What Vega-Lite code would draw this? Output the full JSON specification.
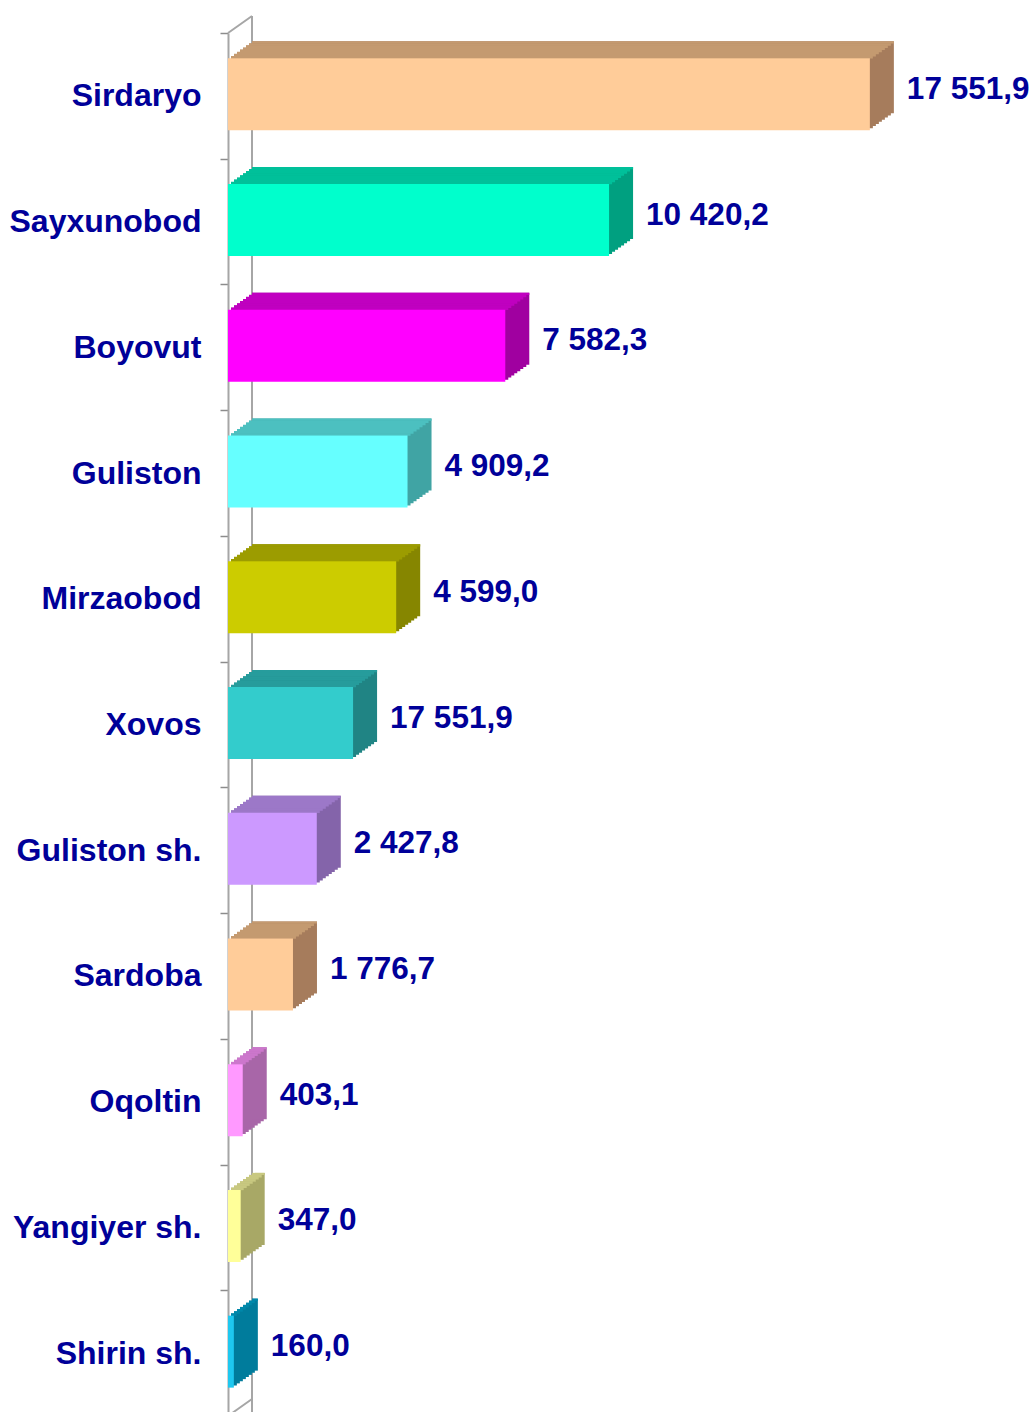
{
  "$schema": "https://vega.github.io/schema/vega-lite/v6.json",
  "autosize": "none",
  "padding": {"left": 228, "top": 33, "right": 0, "bottom": 0},
  "width": 803,
  "height": 1383,
  "background": "white",
  "config": {"view": {"stroke": null}},
  "data": {"values": [
    {"name": "Sirdaryo", "value": 17551.9, "label": "17 551,9"},
    {"name": "Sayxunobod", "value": 10420.2, "label": "10 420,2"},
    {"name": "Boyovut", "value": 7582.3, "label": "7 582,3"},
    {"name": "Guliston", "value": 4909.2, "label": "4 909,2"},
    {"name": "Mirzaobod", "value": 4599.0, "label": "4 599,0"},
    {"name": "Xovos", "value": 3420, "label": "17 551,9"},
    {"name": "Guliston sh.", "value": 2427.8, "label": "2 427,8"},
    {"name": "Sardoba", "value": 1776.7, "label": "1 776,7"},
    {"name": "Oqoltin", "value": 403.1, "label": "403,1"},
    {"name": "Yangiyer sh.", "value": 347.0, "label": "347,0"},
    {"name": "Shirin sh.", "value": 160.0, "label": "160,0"}
  ]},
  "encoding": {
    "y": {"field": "name", "type": "nominal", "sort": null,
          "scale": {"domain": ["Sirdaryo","Sayxunobod","Boyovut","Guliston","Mirzaobod","Xovos","Guliston sh.","Sardoba","Oqoltin","Yangiyer sh.","Shirin sh."], "paddingInner": 0, "paddingOuter": 0},
          "axis": {"title": null, "domain": true, "domainColor": "#A6A6A6", "domainWidth": 2,
                   "ticks": true, "tickBand": "extent", "tickSize": 8, "tickColor": "#8C8C8C", "tickWidth": 1.5,
                   "labelFont": "Liberation Sans", "labelFontWeight": "bold", "labelFontSize": 32,
                   "labelColor": "#000099", "labelPadding": 19, "labelLimit": 0, "grid": false}},
    "x": {"field": "value", "type": "quantitative", "scale": {"domain": [0, 21958], "nice": false}, "axis": null}
  },
  "resolve": {"scale": {"color": "independent"}},
  "layer": [
    {"mark": {"type": "rule", "color": "#A6A6A6", "strokeWidth": 2, "xOffset": 24, "yOffset": -17},
     "encoding": {"x": {"datum": 0, "type": "quantitative"}, "y": null}},
    {"transform": [{"filter": "datum.name === 'Sirdaryo'"}],
     "mark": {"type": "rule", "color": "#A6A6A6", "strokeWidth": 2, "yOffset": -62.85, "x2Offset": 24, "y2Offset": -79.85},
     "encoding": {
       "x": {"datum": 0, "type": "quantitative"},
       "x2": {"datum": 0},
       "y2": {"field": "name"}
     }},
    {"transform": [{"filter": "datum.name === 'Shirin sh.'"}],
     "mark": {"type": "rule", "color": "#A6A6A6", "strokeWidth": 2, "yOffset": 62.85, "x2Offset": 24, "y2Offset": 45.85},
     "encoding": {
       "x": {"datum": 0, "type": "quantitative"},
       "x2": {"datum": 0},
       "y2": {"field": "name"}
     }},

    {"mark": {"type": "bar", "height": 72, "xOffset": 3, "x2Offset": 3, "yOffset": -3.625},
     "encoding": {"color": {"field": "name", "type": "nominal", "legend": null, "scale": {"domain": ["Sirdaryo","Sayxunobod","Boyovut","Guliston","Mirzaobod","Xovos","Guliston sh.","Sardoba","Oqoltin","Yangiyer sh.","Shirin sh."], "range": ["#A67C5C","#00A080","#A000A0","#40A4A4","#868600","#208484","#8464AA","#A67C5C","#A866A8","#A8A866","#007C9C"]}}}},
    {"mark": {"type": "bar", "height": 72, "xOffset": 6, "x2Offset": 6, "yOffset": -5.75},
     "encoding": {"color": {"field": "name", "type": "nominal", "legend": null, "scale": {"domain": ["Sirdaryo","Sayxunobod","Boyovut","Guliston","Mirzaobod","Xovos","Guliston sh.","Sardoba","Oqoltin","Yangiyer sh.","Shirin sh."], "range": ["#A67C5C","#00A080","#A000A0","#40A4A4","#868600","#208484","#8464AA","#A67C5C","#A866A8","#A8A866","#007C9C"]}}}},
    {"mark": {"type": "bar", "height": 72, "xOffset": 9, "x2Offset": 9, "yOffset": -7.875},
     "encoding": {"color": {"field": "name", "type": "nominal", "legend": null, "scale": {"domain": ["Sirdaryo","Sayxunobod","Boyovut","Guliston","Mirzaobod","Xovos","Guliston sh.","Sardoba","Oqoltin","Yangiyer sh.","Shirin sh."], "range": ["#A67C5C","#00A080","#A000A0","#40A4A4","#868600","#208484","#8464AA","#A67C5C","#A866A8","#A8A866","#007C9C"]}}}},
    {"mark": {"type": "bar", "height": 72, "xOffset": 12, "x2Offset": 12, "yOffset": -10},
     "encoding": {"color": {"field": "name", "type": "nominal", "legend": null, "scale": {"domain": ["Sirdaryo","Sayxunobod","Boyovut","Guliston","Mirzaobod","Xovos","Guliston sh.","Sardoba","Oqoltin","Yangiyer sh.","Shirin sh."], "range": ["#A67C5C","#00A080","#A000A0","#40A4A4","#868600","#208484","#8464AA","#A67C5C","#A866A8","#A8A866","#007C9C"]}}}},
    {"mark": {"type": "bar", "height": 72, "xOffset": 15, "x2Offset": 15, "yOffset": -12.125},
     "encoding": {"color": {"field": "name", "type": "nominal", "legend": null, "scale": {"domain": ["Sirdaryo","Sayxunobod","Boyovut","Guliston","Mirzaobod","Xovos","Guliston sh.","Sardoba","Oqoltin","Yangiyer sh.","Shirin sh."], "range": ["#A67C5C","#00A080","#A000A0","#40A4A4","#868600","#208484","#8464AA","#A67C5C","#A866A8","#A8A866","#007C9C"]}}}},
    {"mark": {"type": "bar", "height": 72, "xOffset": 18, "x2Offset": 18, "yOffset": -14.25},
     "encoding": {"color": {"field": "name", "type": "nominal", "legend": null, "scale": {"domain": ["Sirdaryo","Sayxunobod","Boyovut","Guliston","Mirzaobod","Xovos","Guliston sh.","Sardoba","Oqoltin","Yangiyer sh.","Shirin sh."], "range": ["#A67C5C","#00A080","#A000A0","#40A4A4","#868600","#208484","#8464AA","#A67C5C","#A866A8","#A8A866","#007C9C"]}}}},
    {"mark": {"type": "bar", "height": 72, "xOffset": 21, "x2Offset": 21, "yOffset": -16.375},
     "encoding": {"color": {"field": "name", "type": "nominal", "legend": null, "scale": {"domain": ["Sirdaryo","Sayxunobod","Boyovut","Guliston","Mirzaobod","Xovos","Guliston sh.","Sardoba","Oqoltin","Yangiyer sh.","Shirin sh."], "range": ["#A67C5C","#00A080","#A000A0","#40A4A4","#868600","#208484","#8464AA","#A67C5C","#A866A8","#A8A866","#007C9C"]}}}},
    {"mark": {"type": "bar", "height": 72, "xOffset": 24, "x2Offset": 24, "yOffset": -18.5},
     "encoding": {"color": {"field": "name", "type": "nominal", "legend": null, "scale": {"domain": ["Sirdaryo","Sayxunobod","Boyovut","Guliston","Mirzaobod","Xovos","Guliston sh.","Sardoba","Oqoltin","Yangiyer sh.","Shirin sh."], "range": ["#A67C5C","#00A080","#A000A0","#40A4A4","#868600","#208484","#8464AA","#A67C5C","#A866A8","#A8A866","#007C9C"]}}}},

    {"mark": {"type": "bar", "height": 2.6, "xOffset": 3, "x2Offset": 3, "yOffset": -38.56},
     "encoding": {"color": {"field": "name", "type": "nominal", "legend": null, "scale": {"domain": ["Sirdaryo","Sayxunobod","Boyovut","Guliston","Mirzaobod","Xovos","Guliston sh.","Sardoba","Oqoltin","Yangiyer sh.","Shirin sh."], "range": ["#C49A70","#00C09A","#C000C0","#4CC0C0","#9C9C00","#269C9C","#9C78C8","#C49A70","#CC77CC","#C8C880","#0088AA"]}}}},
    {"mark": {"type": "bar", "height": 2.6, "xOffset": 6, "x2Offset": 6, "yOffset": -40.69},
     "encoding": {"color": {"field": "name", "type": "nominal", "legend": null, "scale": {"domain": ["Sirdaryo","Sayxunobod","Boyovut","Guliston","Mirzaobod","Xovos","Guliston sh.","Sardoba","Oqoltin","Yangiyer sh.","Shirin sh."], "range": ["#C49A70","#00C09A","#C000C0","#4CC0C0","#9C9C00","#269C9C","#9C78C8","#C49A70","#CC77CC","#C8C880","#0088AA"]}}}},
    {"mark": {"type": "bar", "height": 2.6, "xOffset": 9, "x2Offset": 9, "yOffset": -42.81},
     "encoding": {"color": {"field": "name", "type": "nominal", "legend": null, "scale": {"domain": ["Sirdaryo","Sayxunobod","Boyovut","Guliston","Mirzaobod","Xovos","Guliston sh.","Sardoba","Oqoltin","Yangiyer sh.","Shirin sh."], "range": ["#C49A70","#00C09A","#C000C0","#4CC0C0","#9C9C00","#269C9C","#9C78C8","#C49A70","#CC77CC","#C8C880","#0088AA"]}}}},
    {"mark": {"type": "bar", "height": 2.6, "xOffset": 12, "x2Offset": 12, "yOffset": -44.94},
     "encoding": {"color": {"field": "name", "type": "nominal", "legend": null, "scale": {"domain": ["Sirdaryo","Sayxunobod","Boyovut","Guliston","Mirzaobod","Xovos","Guliston sh.","Sardoba","Oqoltin","Yangiyer sh.","Shirin sh."], "range": ["#C49A70","#00C09A","#C000C0","#4CC0C0","#9C9C00","#269C9C","#9C78C8","#C49A70","#CC77CC","#C8C880","#0088AA"]}}}},
    {"mark": {"type": "bar", "height": 2.6, "xOffset": 15, "x2Offset": 15, "yOffset": -47.06},
     "encoding": {"color": {"field": "name", "type": "nominal", "legend": null, "scale": {"domain": ["Sirdaryo","Sayxunobod","Boyovut","Guliston","Mirzaobod","Xovos","Guliston sh.","Sardoba","Oqoltin","Yangiyer sh.","Shirin sh."], "range": ["#C49A70","#00C09A","#C000C0","#4CC0C0","#9C9C00","#269C9C","#9C78C8","#C49A70","#CC77CC","#C8C880","#0088AA"]}}}},
    {"mark": {"type": "bar", "height": 2.6, "xOffset": 18, "x2Offset": 18, "yOffset": -49.19},
     "encoding": {"color": {"field": "name", "type": "nominal", "legend": null, "scale": {"domain": ["Sirdaryo","Sayxunobod","Boyovut","Guliston","Mirzaobod","Xovos","Guliston sh.","Sardoba","Oqoltin","Yangiyer sh.","Shirin sh."], "range": ["#C49A70","#00C09A","#C000C0","#4CC0C0","#9C9C00","#269C9C","#9C78C8","#C49A70","#CC77CC","#C8C880","#0088AA"]}}}},
    {"mark": {"type": "bar", "height": 2.6, "xOffset": 21, "x2Offset": 21, "yOffset": -51.31},
     "encoding": {"color": {"field": "name", "type": "nominal", "legend": null, "scale": {"domain": ["Sirdaryo","Sayxunobod","Boyovut","Guliston","Mirzaobod","Xovos","Guliston sh.","Sardoba","Oqoltin","Yangiyer sh.","Shirin sh."], "range": ["#C49A70","#00C09A","#C000C0","#4CC0C0","#9C9C00","#269C9C","#9C78C8","#C49A70","#CC77CC","#C8C880","#0088AA"]}}}},
    {"mark": {"type": "bar", "height": 2.2, "xOffset": 24, "x2Offset": 24, "yOffset": -53.44},
     "encoding": {"color": {"field": "name", "type": "nominal", "legend": null, "scale": {"domain": ["Sirdaryo","Sayxunobod","Boyovut","Guliston","Mirzaobod","Xovos","Guliston sh.","Sardoba","Oqoltin","Yangiyer sh.","Shirin sh."], "range": ["#C49A70","#00C09A","#C000C0","#4CC0C0","#9C9C00","#269C9C","#9C78C8","#C49A70","#CC77CC","#C8C880","#0088AA"]}}}},

    {"mark": {"type": "bar", "height": 72, "yOffset": -1.5},
     "encoding": {"color": {"field": "name", "type": "nominal", "legend": null, "scale": {"domain": ["Sirdaryo","Sayxunobod","Boyovut","Guliston","Mirzaobod","Xovos","Guliston sh.","Sardoba","Oqoltin","Yangiyer sh.","Shirin sh."], "range": ["#FFCC99","#00FFCC","#FF00FF","#66FFFF","#CCCC00","#33CCCC","#CC99FF","#FFCC99","#FF99FF","#FFFF99","#1EC8F0"]}}}},

    {"mark": {"type": "text", "align": "left", "baseline": "middle", "dx": 37, "dy": -6,
              "font": "Liberation Sans", "fontWeight": "bold", "fontSize": 31.5, "color": "#000099"},
     "encoding": {"text": {"field": "label", "type": "nominal"}}}
  ]
}
